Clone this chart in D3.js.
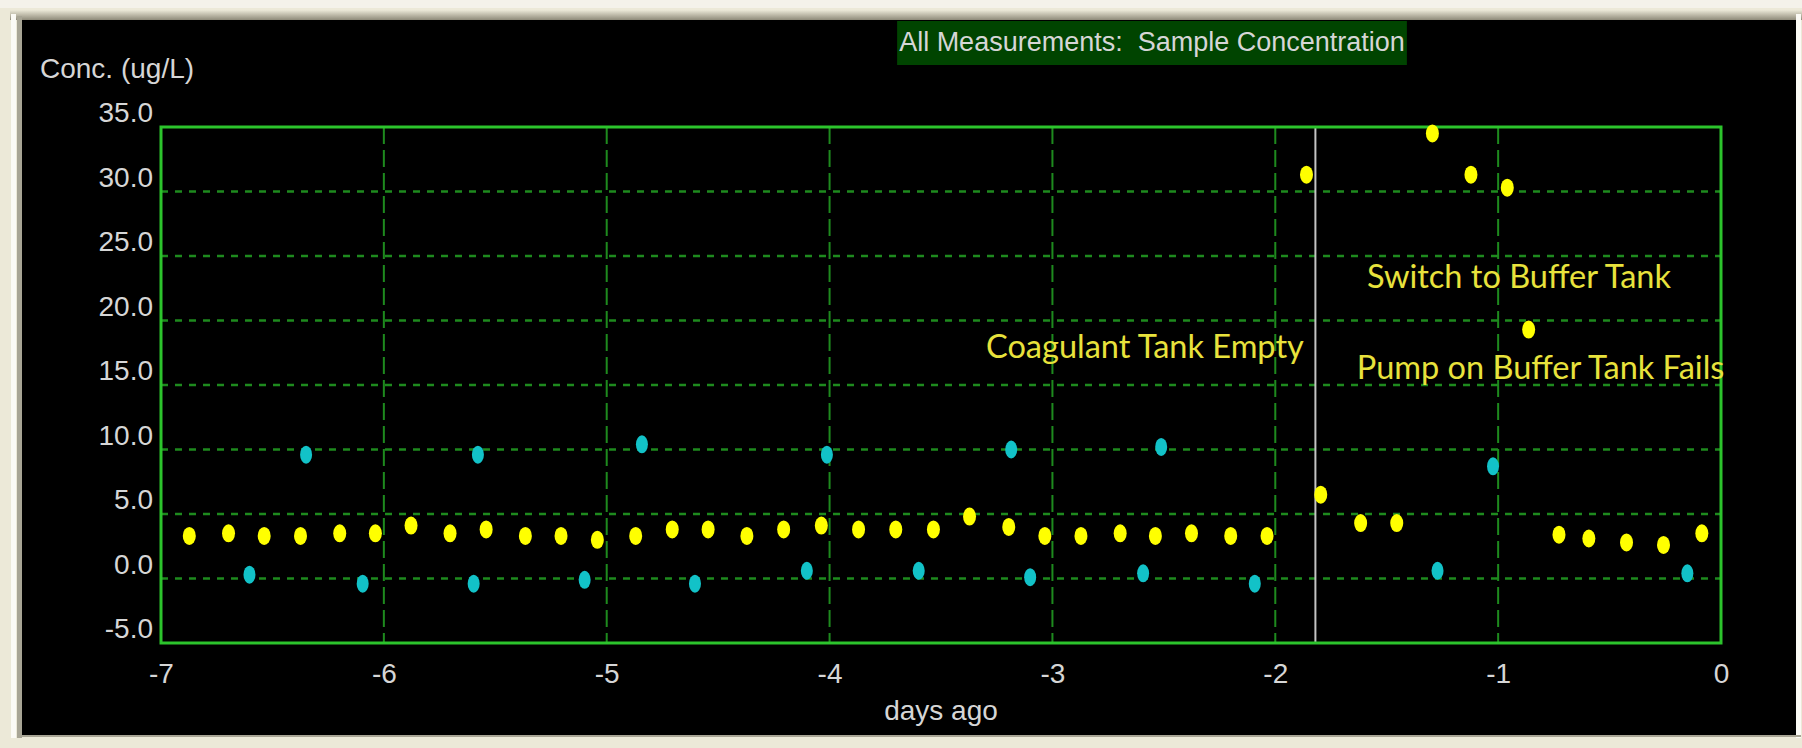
<!DOCTYPE html>
<html lang="en">
<head>
<meta charset="UTF-8">
<title>All Measurements: Sample Concentration</title>
<style>
  html, body { margin: 0; padding: 0; background: #ece9d8; }
  svg { display: block; }
  .tick text, .label { font-family: "Liberation Sans", Arial, sans-serif; font-size: 28px; fill: #d6d6d6; }
  .title { font-family: "Liberation Sans", Arial, sans-serif; font-size: 27px; fill: #d6d6d6; white-space: pre; }
  .note { font-family: Lato, sans-serif; font-size: 32.5px; fill: #e8e23c; }
</style>
</head>
<body>
<div id="chart"></div>
<script src="https://d3js.org/d3.v7.min.js"></script>
<script>
// yellow points: sample measurements (days ago, ug/L)
const sampleDays = [-6.873, -6.697, -6.537, -6.374, -6.198, -6.038, -5.878, -5.703, -5.541, -5.365,
  -5.205, -5.042, -4.870, -4.706, -4.545, -4.371, -4.206, -4.037, -3.870, -3.703,
  -3.534, -3.372, -3.196, -3.034, -2.872, -2.696, -2.538, -2.376, -2.200, -2.037,
  -1.860, -1.796, -1.617, -1.455, -1.295, -1.122, -0.959, -0.863, -0.727, -0.593,
  -0.424, -0.258, -0.086];
const sampleConc = [3.3, 3.5, 3.3, 3.3, 3.5, 3.5, 4.1, 3.5, 3.8, 3.3,
  3.3, 3.0, 3.3, 3.8, 3.8, 3.3, 3.8, 4.1, 3.8, 3.8,
  3.8, 4.8, 4.0, 3.3, 3.3, 3.5, 3.3, 3.5, 3.3, 3.3,
  31.3, 6.5, 4.3, 4.3, 34.5, 31.3, 30.3, 19.3, 3.4, 3.1,
  2.8, 2.6, 3.5];

// cyan points: check / blank measurements
const checkDays = [-6.603, -6.349, -6.095, -5.597, -5.578, -5.099, -4.842, -4.604, -4.102, -4.012,
  -3.600, -3.185, -3.100, -2.593, -2.512, -2.092, -1.272, -1.023, -0.151];
const checkConc = [0.3, 9.6, -0.4, -0.4, 9.6, -0.1, 10.4, -0.4, 0.6, 9.6,
  0.6, 10.0, 0.1, 0.4, 10.2, -0.4, 0.6, 8.7, 0.4];

const yTicks = [-5, 0, 5, 10, 15, 20, 25, 30, 35];
const xTicks = [-7, -6, -5, -4, -3, -2, -1, 0];

const eventDay = -1.82;
const noteText = ["Coagulant Tank Empty", "Switch to Buffer Tank", "Pump on Buffer Tank Fails"];
const noteDay = [-1.872, -1.589, -1.634];
const noteConc = [17.1, 22.5, 15.5];
const noteAnchor = ["end", "start", "start"];

const W = 1802, H = 748;
const plot = { left: 161, right: 1721, top: 127, bottom: 643 };

const svg = d3.select("#chart").append("svg")
  .attr("width", W).attr("height", H);

// window frame
const defs = svg.append("defs");
const grad = defs.append("linearGradient").attr("id", "topShade")
  .attr("x1", 0).attr("x2", 0).attr("y1", 0).attr("y2", 1);
grad.append("stop").attr("offset", "0%").attr("stop-color", "#ece9d8");
grad.append("stop").attr("offset", "100%").attr("stop-color", "#8f8b7a");

svg.append("rect").attr("width", W).attr("height", H).attr("fill", "#ece9d8");
svg.append("rect").attr("x", 0).attr("y", 0).attr("width", W).attr("height", 8).attr("fill", "#f4f2ea");
svg.append("rect").attr("x", 10).attr("y", 10).attr("width", W - 10).attr("height", 10).attr("fill", "url(#topShade)");
svg.append("rect").attr("x", 11).attr("y", 14).attr("width", 5).attr("height", 724).attr("fill", "#fbfaf5");
svg.append("rect").attr("x", 17).attr("y", 16).attr("width", 5).attr("height", 722).attr("fill", "#a8a595");
svg.append("rect").attr("x", 1796).attr("y", 14).attr("width", 5).attr("height", 724).attr("fill", "#fbfaf5");
svg.append("rect").attr("x", 22).attr("y", 20).attr("width", 1774).attr("height", 715).attr("fill", "#000");
svg.append("rect").attr("x", 17).attr("y", 735).attr("width", 1784).attr("height", 2).attr("fill", "#a8a595");

const x = d3.scaleLinear().domain([-7, 0]).range([plot.left, plot.right]);
const y = d3.scaleLinear().domain([-5, 35]).range([plot.bottom, plot.top]);

// grid
svg.append("g").selectAll("line")
  .data(yTicks.filter(d => d > -5 && d < 35))
  .join("line")
  .attr("x1", plot.left).attr("x2", plot.right)
  .attr("y1", d => y(d)).attr("y2", d => y(d))
  .attr("stroke", "#1e8a1e").attr("stroke-width", 2.5)
  .attr("stroke-dasharray", "7,7");

svg.append("g").selectAll("line")
  .data(xTicks.filter(d => d > -7 && d < 0))
  .join("line")
  .attr("x1", d => x(d)).attr("x2", d => x(d))
  .attr("y1", plot.top).attr("y2", plot.bottom)
  .attr("stroke", "#1e8a1e").attr("stroke-width", 2)
  .attr("stroke-dasharray", "17,6");

// event marker line
svg.append("line")
  .attr("x1", x(eventDay)).attr("x2", x(eventDay))
  .attr("y1", plot.top).attr("y2", plot.bottom)
  .attr("stroke", "#c4c4c4").attr("stroke-width", 2);

// plot border
svg.append("rect")
  .attr("x", plot.left).attr("y", plot.top)
  .attr("width", plot.right - plot.left).attr("height", plot.bottom - plot.top)
  .attr("fill", "none").attr("stroke", "#2cc42c").attr("stroke-width", 3);

// axes (plain hyphen for negatives, like the original)
const yAxis = svg.append("g")
  .attr("transform", `translate(${plot.left},0)`)
  .call(d3.axisLeft(y).tickValues(yTicks).tickFormat(d => d.toFixed(1)).tickSize(0).tickPadding(8));
yAxis.select(".domain").remove();
yAxis.selectAll("text").attr("y", -14);

const xAxis = svg.append("g")
  .attr("transform", `translate(0,${plot.bottom})`)
  .call(d3.axisBottom(x).tickValues(xTicks).tickFormat(d => String(d)).tickSize(0).tickPadding(20));
xAxis.select(".domain").remove();

svg.append("text").attr("class", "label")
  .attr("x", 40).attr("y", 78).text("Conc. (ug/L)");

svg.append("text").attr("class", "label")
  .attr("x", (plot.left + plot.right) / 2).attr("y", 720)
  .attr("text-anchor", "middle").text("days ago");

// title box
const titleBox = svg.append("rect").attr("fill", "#004400");
const title = svg.append("text").attr("class", "title")
  .attr("x", 1152).attr("y", 51).attr("text-anchor", "middle")
  .text("All Measurements:  Sample Concentration");
const tb = title.node().getBBox();
titleBox.attr("x", tb.x - 2).attr("y", 21).attr("width", tb.width + 4).attr("height", 44);

// points
svg.append("g").selectAll("ellipse")
  .data(checkDays.map((d, i) => [d, checkConc[i]]))
  .join("ellipse")
  .attr("cx", d => x(d[0])).attr("cy", d => y(d[1]))
  .attr("rx", 6).attr("ry", 9)
  .attr("fill", "#12c2c8");

svg.append("g").selectAll("ellipse")
  .data(sampleDays.map((d, i) => [d, sampleConc[i]]))
  .join("ellipse")
  .attr("cx", d => x(d[0])).attr("cy", d => y(d[1]))
  .attr("rx", 6.5).attr("ry", 9)
  .attr("fill", "#ffff00");

// annotations
svg.append("g").selectAll("text")
  .data(noteText)
  .join("text")
  .attr("class", "note")
  .attr("x", (d, i) => x(noteDay[i]))
  .attr("y", (d, i) => y(noteConc[i]))
  .attr("text-anchor", (d, i) => noteAnchor[i])
  .text(d => d);
</script>
</body>
</html>
